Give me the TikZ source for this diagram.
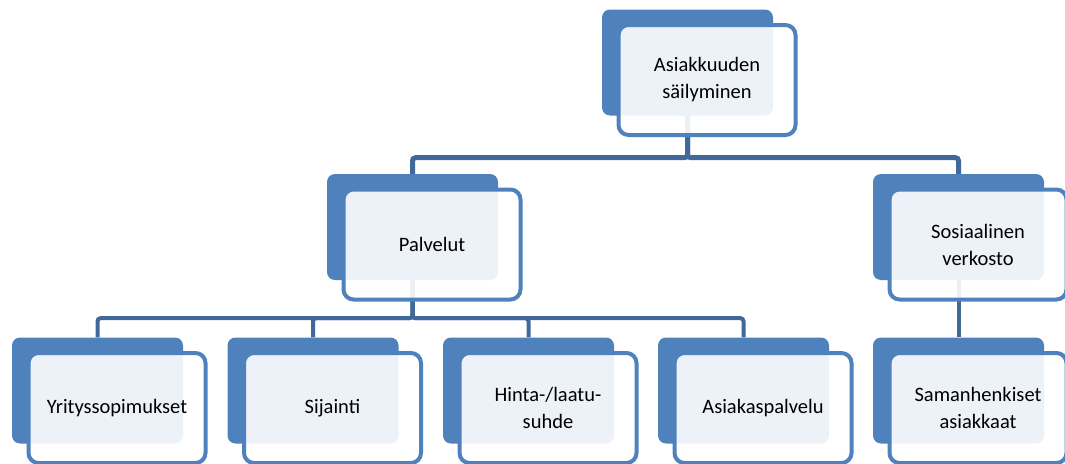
\documentclass[tikz,border=0pt]{standalone}
\usepackage{fontspec}
\setmainfont{Carlito}
\usepackage{tikz}
\usetikzlibrary{calc, positioning}
\definecolor{BoxBlue}{RGB}{79,129,189}
\definecolor{LineBlue}{RGB}{65,104,154}
\tikzset{
  % back boxes
  unit back/.style={rectangle,rounded corners=8,fill=BoxBlue,minimum width=171,minimum height=106,inner sep=0},
  % front boxes with text
  unit/.style={rectangle,rounded corners=10,draw=BoxBlue,line width=4,fill=white,fill opacity=0.9,text opacity=1,
    minimum width=177,minimum height=110,align=center,font=\fontsize{20.5}{27}\selectfont},
  % connectors
  connect/.style={line width=5,LineBlue,rounded corners=3},
  connect low/.style={connect,line width=4}
}

\begin{document}
\begin{tikzpicture}[x=1pt,y=-1pt]
    \useasboundingbox (0,0) rectangle (1065,463);
    \node[unit back] (top-b) at (687.5,62.5) {};
    \node[unit back] (pal-b) at (412.5,227) {};
    \node[unit back] (sos-b) at (958.5,227) {};
    \foreach \n/\x in {yri/97.5,sij/313,hin/528.5,asi/743.5,sam/958.5}
      \node[unit back] (\n-b) at (\x,390.5) {};
    % tree lines
    \draw[connect] (top-b.south) -- ++(0,42) -| (pal-b.north);
    \draw[connect] (top-b.south) -- ++(0,42) -| (sos-b.north);
    \foreach \n in {yri,sij,hin,asi}
      \draw[connect low] (pal-b.south) -- ++(0,38) -| (\n-b.north);
    \draw[connect low] (sos-b) -- (sam-b);
    % front boxes
    \node[unit] (top) at ($(top-b)+(19.5,17.5)$) {Asiakkuuden\\säilyminen};
    \node[unit] (pal) at ($(pal-b)+(19.5,17.5)$) {Palvelut};
    \node[unit] (sos) at ($(sos-b)+(19.5,17.5)$) {Sosiaalinen\\verkosto};
    \node[unit] (yri) at ($(yri-b)+(19.5,17.5)$) {Yrityssopimukset};
    \node[unit] (sij) at ($(sij-b)+(19.5,17.5)$) {Sijainti};
    \node[unit] (hin) at ($(hin-b)+(19.5,17.5)$) {Hinta-/laatu-\\suhde};
    \node[unit] (asi) at ($(asi-b)+(19.5,17.5)$) {Asiakaspalvelu};
    \node[unit] (sam) at ($(sam-b)+(19.5,17.5)$) {Samanhenkiset\\asiakkaat};
\end{tikzpicture}
\end{document}
